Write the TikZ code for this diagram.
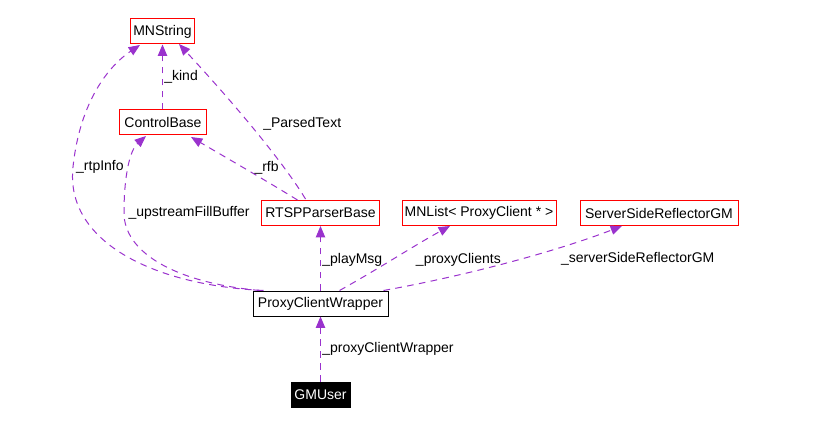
\documentclass[tikz,border=0pt]{standalone}
\usepackage{fontspec}
\setmainfont{Liberation Sans}
\usetikzlibrary{arrows.meta,positioning}
\definecolor{dxPurple}{RGB}{154,50,205}
\definecolor{dxRed}{RGB}{255,0,0}

\begin{document}
\begin{tikzpicture}[
  x=0.75pt, y=-0.75pt,
  font=\fontsize{10.5}{12}\selectfont,
  cls/.style={draw=dxRed, line width=0.75pt, minimum height=18.75pt, inner xsep=2pt, inner ysep=0pt},
  doc/.style={cls, draw=black},
  rel/.style={color=dxPurple, line width=0.75pt, dash pattern=on 5pt off 4pt, -{Triangle[length=8.5pt, width=7pt]}},
  lbl/.style={inner sep=1pt, text=black},
]
\useasboundingbox (0,0) rectangle (818,424);
% classes
\node[cls, minimum width=48pt] (mns) at (162.5,31.5) {MNString};
\node[cls, minimum width=65.25pt] (ctl) at (163,122.5) {ControlBase};
\node[cls, minimum width=89pt] (rtsp) at (320.5,213) {RTSPParserBase};
\node[cls, minimum width=115.5pt] (lst) at (479,213) {MNList< ProxyClient * >};
\node[cls, minimum width=118.5pt] (ssr) at (659,213) {ServerSideReflectorGM};
\node[doc, minimum width=101.25pt] (pcw) at (320.5,303.5) {ProxyClientWrapper};
\node[doc, fill=black, text=white, minimum width=44.25pt] (gmu) at (320.5,394.5) {GMUser};
% relations
\draw[rel] (ctl.north -| mns) -- node[right, lbl] {\_kind} (mns.south);
\draw[rel] (rtsp.north) ++(-23,0) .. controls (265,180) and (225,157) .. (191,137)
  node[pos=0.3, above=4pt, lbl] {\_rfb};
\draw[rel] (rtsp.north) ++(-15,-1) .. controls (285,165) and (240,110) .. (179,44)
  node[pos=0.56, right=9pt, lbl] {\_ParsedText};
\draw[rel] (pcw.north) ++(-57,0) .. controls (150,285) and (65,240) .. (73,167)
  node[right=1pt, lbl] {\_rtpInfo} .. controls (80,100) and (110,65) .. (140,45);
\draw[rel] (pcw.north) ++(-61,0) .. controls (170,282) and (124,250) .. (124,213)
  node[right=2pt, lbl] {\_upstreamFillBuffer} .. controls (124,175) and (130,150) .. (146,136);
\draw[rel] (pcw.north) -- node[right, lbl, pos=0.47] {\_playMsg} (rtsp.south);
\draw[rel] (pcw.north) ++(19,0) .. controls (380,268) and (415,245) .. (450,226)
  node[pos=0.5, right=13pt, yshift=-2pt, lbl] {\_proxyClients};
\draw[rel] (pcw.north) ++(63,0) .. controls (470,275) and (560,250) .. (622,226)
  node[pos=0.8, xshift=42pt, yshift=-13.5pt, lbl] {\_serverSideReflectorGM};
\draw[rel] (gmu.north) -- node[right, lbl] {\_proxyClientWrapper} (pcw.south);
\end{tikzpicture}
\end{document}
